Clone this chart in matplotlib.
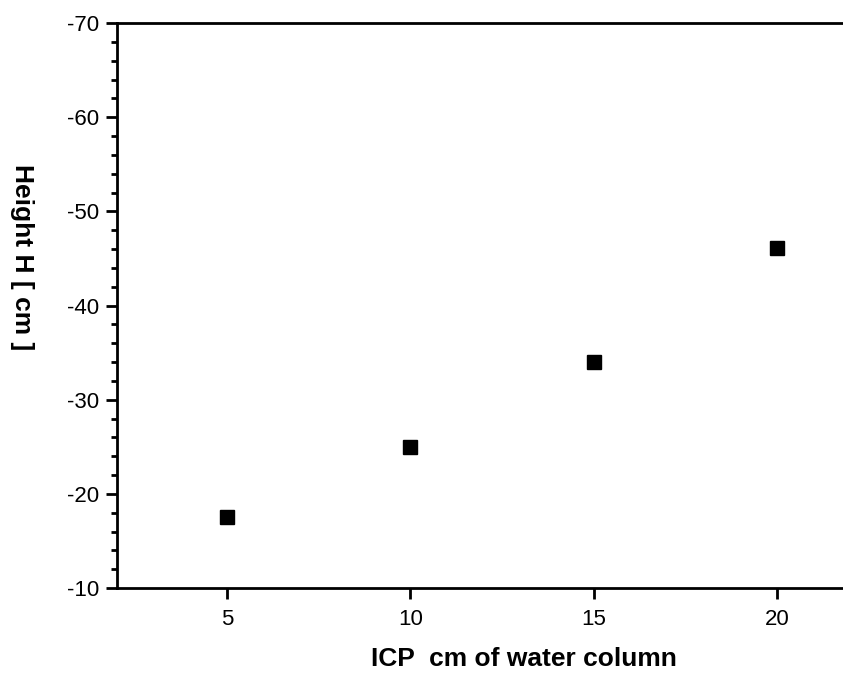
import matplotlib.pyplot as plt
from matplotlib.ticker import MultipleLocator

# ICP in cm of water column, height H in cm
icp = [5, 10, 15, 20]
height = [-17.5, -25.0, -34.0, -46.1]

plt.rcParams['font.family'] = ['Liberation Sans', 'DejaVu Sans']
plt.rcParams['axes.unicode_minus'] = False

fig = plt.figure(figsize=(8.43, 6.73), dpi=100)
ax = fig.add_axes([0.1388, 0.1263, 0.8612, 0.8395])

ax.plot(icp, height, 's', color='black', markersize=10, clip_on=False)

ax.set_xlim(2, 21.8)
ax.set_ylim(-10, -70)
ax.xaxis.set_major_locator(MultipleLocator(5))
ax.yaxis.set_major_locator(MultipleLocator(10))
ax.yaxis.set_minor_locator(MultipleLocator(2))

ax.spines['right'].set_visible(False)
for s in ['left', 'top', 'bottom']:
    ax.spines[s].set_linewidth(2)

ax.tick_params(axis='both', which='major', direction='out', length=8, width=2,
               labelsize=16)
ax.tick_params(axis='y', which='major', pad=5)
ax.tick_params(axis='x', which='major', pad=7)
ax.tick_params(axis='y', which='minor', direction='out', length=4, width=2)

ax.set_xlabel('ICP  cm of water column', fontsize=19, fontweight='bold',
              va='center')
ax.xaxis.set_label_coords(0.5606, -0.125)
ax.set_ylabel('Height H [ cm ]', fontsize=19, fontweight='bold', rotation=270,
              ha='center', va='center')
ax.yaxis.set_label_coords(-0.131, 0.586)

fig.savefig('out.png', dpi=100)
